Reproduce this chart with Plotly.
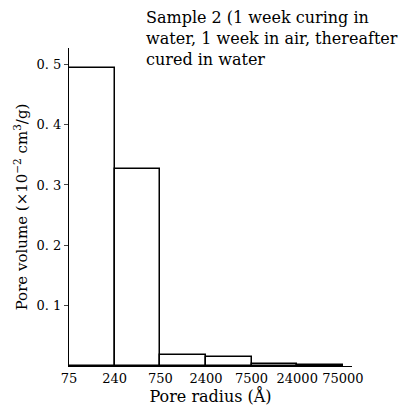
import plotly.graph_objects as go

bin_edges = ["75", "240", "750", "2400", "7500", "24000", "75000"]
pore_volume = [0.494, 0.326, 0.019, 0.015, 0.004, 0.001]
y_ticks = [0.1, 0.2, 0.3, 0.4, 0.5]
y_tick_labels = ["0. 1", "0. 2", "0. 3", "0. 4", "0. 5"]

centers = [i + 0.5 for i in range(len(pore_volume))]

SERIF = "DejaVu Serif"

fig = go.Figure()
fig.add_trace(go.Bar(
    x=centers, y=pore_volume, width=[1] * len(pore_volume),
    marker=dict(color="white", line=dict(color="black", width=1.5)),
    showlegend=False,
))

L, R, T, B = 69, 57, 48, 49.5
plot_w = 409 - L - R
plot_h = 416 - T - B

fig.update_layout(
    width=409, height=416,
    margin=dict(l=L, r=R, t=T, b=B),
    plot_bgcolor="white", paper_bgcolor="white",
    font=dict(family=SERIF, size=14, color="black"),
    bargap=0,
    xaxis=dict(
        range=[0, 6.2], tickmode="array",
        tickvals=list(range(len(bin_edges))), ticktext=bin_edges,
        tickfont=dict(family=SERIF, size=13, color="black"),
        showline=True, linecolor="black", linewidth=1,
        showgrid=False, zeroline=False, ticks="",
        title=dict(text="Pore radius (Å)", standoff=6,
                   font=dict(family=SERIF, size=16, color="black")),
    ),
    yaxis=dict(
        range=[0, 0.527], tickmode="array",
        tickvals=y_ticks, ticktext=y_tick_labels,
        tickfont=dict(family=SERIF, size=13, color="black"),
        showline=True, linecolor="black", linewidth=1,
        showgrid=False, zeroline=False, ticks="outside", ticklen=4,
        title=dict(text="Pore volume (×10<sup>−2</sup> cm<sup>3</sup>/g)", standoff=5,
                   font=dict(family=SERIF, size=15, color="black")),
    ),
    annotations=[dict(
        x=(144 - L) / plot_w, y=(416 - B - 6) / plot_h,
        xref="paper", yref="paper", showarrow=False,
        text="Sample 2 (1 week curing in<br>water, 1 week in air, thereafter<br>cured in water",
        align="left", xanchor="left", yanchor="top",
        font=dict(family=SERIF, size=16, color="black"),
    )],
)
fig.write_html("out.html")
